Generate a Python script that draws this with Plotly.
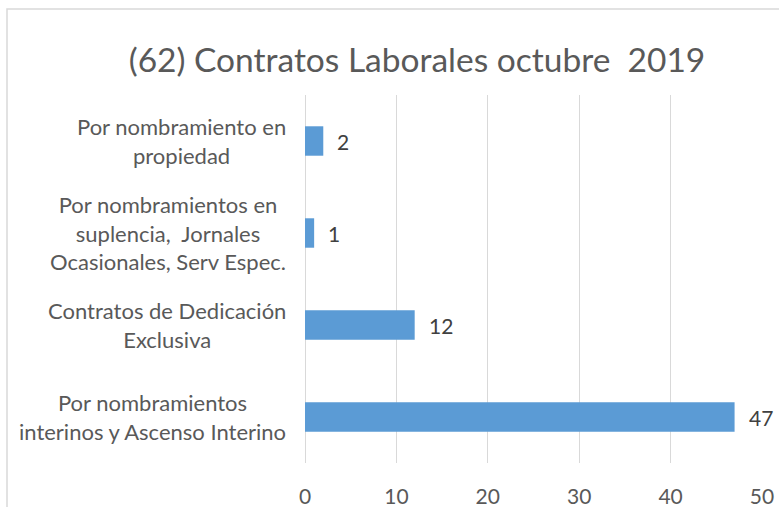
import plotly.graph_objects as go

categories = [
    "Por nombramiento en<br>propiedad",
    "Por nombramientos en<br>suplencia,\u00a0 Jornales<br>Ocasionales, Serv Espec.",
    "Contratos de Dedicación<br>Exclusiva",
    "Por nombramientos<br>interinos y Ascenso Interino",
]
values = [2, 1, 12, 47]
title_text = "(62) Contratos Laborales octubre\u00a0 2019"
x_ticks = [0, 10, 20, 30, 40, 50]

FONT = "Lato"
W, H = 779, 507
L, R, T, B = 305, 17, 95, 44
pw, ph = W - L - R, H - T - B

fig = go.Figure()
fig.add_trace(go.Bar(
    x=values, y=categories, orientation="h",
    marker=dict(color="#5B9BD5", line=dict(width=0)),
    width=0.32, hoverinfo="skip",
))

annotations = []
for c, v in zip(categories, values):
    annotations.append(dict(
        x=0, y=c, xref="x", yref="y", text=c, showarrow=False,
        xanchor="right", yanchor="middle", align="center", xshift=-17,
        font=dict(family=FONT, size=22, color="#595959"),
    ))
    annotations.append(dict(
        x=v, y=c, xref="x", yref="y", text=str(v), showarrow=False,
        xanchor="left", yanchor="middle", xshift=12,
        font=dict(family=FONT, size=21, color="#404040"),
    ))

# chart-area border (light gray), left and top edges visible
bx0 = (7 - L) / pw
by1 = 1 + (T - 9) / ph
fig.add_shape(type="rect", xref="paper", yref="paper",
              x0=bx0, x1=1.2, y0=-0.5, y1=by1,
              line=dict(color="#D9D9D9", width=1.5), fillcolor="rgba(0,0,0,0)",
              layer="below")

fig.update_layout(
    width=W, height=H,
    margin=dict(l=L, r=R, t=T, b=B, autoexpand=False),
    paper_bgcolor="white", plot_bgcolor="white",
    showlegend=False,
    title=dict(text=title_text, xref="container", yref="container",
               x=417 / W, y=1 - 60 / H,
               xanchor="center", yanchor="middle",
               font=dict(family=FONT, size=33.5, color="#595959")),
    xaxis=dict(range=[0, 50], tickvals=x_ticks, showgrid=True,
               gridcolor="#D9D9D9", gridwidth=1.3, zeroline=True,
               zerolinecolor="#D9D9D9", zerolinewidth=1.3, showline=False,
               ticks="", ticklabelstandoff=19, automargin=False,
               tickfont=dict(family=FONT, size=21, color="#595959"),
               fixedrange=True),
    yaxis=dict(autorange="reversed", showticklabels=False, showgrid=False,
               zeroline=False, showline=False, ticks="", fixedrange=True,
               automargin=False),
    annotations=annotations,
    bargap=0.68,
)

fig.write_html("out.html", config={"displayModeBar": False},
               post_script="document.body.style.margin='0';document.body.style.padding='0';")
